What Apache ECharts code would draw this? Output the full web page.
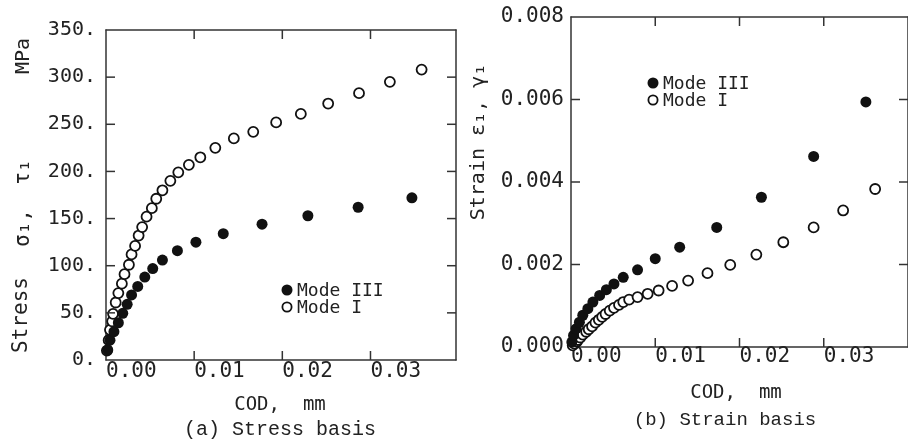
<!DOCTYPE html>
<html>
<head>
<meta charset="utf-8">
<script src="https://cdn.jsdelivr.net/npm/echarts@6/dist/echarts.min.js"></script>
<style>
  html, body { margin: 0; padding: 0; background: #fff; }
  #chart { width: 908px; height: 441px; }
</style>
</head>
<body>
<div id="chart"></div>
<script>
// (a) Stress basis: COD (mm) vs stress (MPa)
const codStressModeIII = [0.0002, 0.00045, 0.0009, 0.0014, 0.0019, 0.0024, 0.0029, 0.0036, 0.0044, 0.0053, 0.0064, 0.0081, 0.0102, 0.0133, 0.0177, 0.0229, 0.0286, 0.0347];
const stressModeIII = [10.6, 21, 30, 39.5, 49.5, 59, 69, 78, 88, 97, 106, 116, 125, 134, 144, 153, 162, 172];
const codStressModeI = [0.0001, 0.0003, 0.00045, 0.0007, 0.0008, 0.0011, 0.0014, 0.0018, 0.0021, 0.0026, 0.0029, 0.0033, 0.0037, 0.0041, 0.0046, 0.0052, 0.0057, 0.0064, 0.0073, 0.0082, 0.0094, 0.0107, 0.0124, 0.0145, 0.0167, 0.0193, 0.0221, 0.0252, 0.0287, 0.0322, 0.0358];
const stressModeI = [10, 21, 32, 41, 49, 61, 71, 81, 91, 101, 112, 121, 132, 141, 152, 161, 171, 180, 190, 199, 207, 215, 225, 235, 242, 252, 261, 272, 283, 295, 308];

// (b) Strain basis: COD (mm) vs strain
const codStrainModeIII = [0.0001, 0.0003, 0.0006, 0.0010, 0.0014, 0.0020, 0.0026, 0.0034, 0.0042, 0.0051, 0.0062, 0.0079, 0.0100, 0.0129, 0.0173, 0.0226, 0.0288, 0.0350];
const strainModeIII = [0.00012, 0.00028, 0.00044, 0.00060, 0.00077, 0.00093, 0.00109, 0.00125, 0.00139, 0.00153, 0.00169, 0.00187, 0.00214, 0.00242, 0.00290, 0.00363, 0.00462, 0.00594];
const codStrainModeI = [0.0002, 0.0004, 0.0007, 0.0008, 0.0011, 0.0014, 0.0018, 0.0021, 0.0025, 0.0029, 0.0033, 0.0037, 0.0041, 0.0046, 0.0051, 0.0057, 0.0062, 0.0069, 0.0079, 0.0091, 0.0104, 0.0120, 0.0139, 0.0162, 0.0189, 0.0220, 0.0252, 0.0288, 0.0323, 0.0361];
const strainModeI = [0.00004, 0.00008, 0.00013, 0.00017, 0.00023, 0.00030, 0.00037, 0.00043, 0.00050, 0.00059, 0.00066, 0.00073, 0.00080, 0.00088, 0.00095, 0.00102, 0.00109, 0.00115, 0.00121, 0.00129, 0.00137, 0.00148, 0.00161, 0.00179, 0.00199, 0.00224, 0.00254, 0.00290, 0.00331, 0.00383];

// inner tick marks drawn on all four sides of each frame
const codTicks = [0.01, 0.02, 0.03];
const stressTicks = [50, 100, 150, 200, 250, 300];
const strainTicks = [0.002, 0.004, 0.006];

const legendLabels = ['Mode III', 'Mode I'];

const INK = '#222';
const FRAME = '#333';
const MONO = 'DejaVu Sans Mono';
const TYPE = 'Liberation Mono';
const TICK_LEN = 9;

const pairs = (xs, ys) => xs.map((x, i) => [x, ys[i]]);

const axisLine = () => ({ show: true, onZero: false, lineStyle: { color: FRAME, width: 1.5 } });

function xAxes(gridIndex, max, margin) {
  return [
    {
      gridIndex, type: 'value', position: 'bottom', min: 0, max, interval: 0.01,
      splitLine: { show: false }, axisLine: axisLine(), axisTick: { show: false },
      axisLabel: {
        show: true, showMaxLabel: false, align: 'left', margin,
        fontFamily: MONO, fontSize: 21, color: INK,
        formatter: v => v.toFixed(2)
      }
    },
    {
      gridIndex, type: 'value', position: 'top', min: 0, max, interval: 0.01,
      splitLine: { show: false }, axisLine: axisLine(), axisTick: { show: false },
      axisLabel: { show: false }
    }
  ];
}

function yAxes(gridIndex, max, interval, fmt, fontSize, margin) {
  return [
    {
      gridIndex, type: 'value', position: 'left', min: 0, max, interval,
      splitLine: { show: false }, axisLine: axisLine(), axisTick: { show: false },
      axisLabel: { show: true, margin, fontFamily: MONO, fontSize, color: INK, formatter: fmt }
    },
    {
      gridIndex, type: 'value', position: 'right', min: 0, max, interval,
      splitLine: { show: false }, axisLine: axisLine(), axisTick: { show: false },
      axisLabel: { show: false }
    }
  ];
}

const filledStyle = () => ({ color: '#111', opacity: 1 });
const openStyle = () => ({ color: '#fff', borderColor: '#111', borderWidth: 1.8, opacity: 1 });

// Key: filled dot for Mode III, open ring for Mode I
function legendGraphic(x, y) {
  return [
    { type: 'circle', shape: { cx: x, cy: y, r: 5.5 }, style: { fill: '#111' } },
    { type: 'circle', shape: { cx: x, cy: y + 17, r: 4.6 }, style: { fill: '#fff', stroke: '#111', lineWidth: 1.8 } },
    { type: 'text', x: x + 10, y: y + 1, style: { text: legendLabels[0], fontFamily: MONO, fontSize: 18, fill: INK, align: 'left', verticalAlign: 'middle' } },
    { type: 'text', x: x + 10, y: y + 18, style: { text: legendLabels[1], fontFamily: MONO, fontSize: 18, fill: INK, align: 'left', verticalAlign: 'middle' } }
  ];
}

function vText(x, y, text, size) {
  return {
    type: 'text', x, y, rotation: Math.PI / 2,
    style: { text, fontFamily: MONO, fontSize: size, fill: INK, align: 'center', verticalAlign: 'middle' }
  };
}
function hText(x, y, text, font, size) {
  return {
    type: 'text', x, y,
    style: { text, fontFamily: font, fontSize: size, fill: INK, align: 'center', verticalAlign: 'middle' }
  };
}

const STRESS_X_MAX = 0.0397, STRESS_Y_MAX = 350;
const STRAIN_X_MAX = 0.04, STRAIN_Y_MAX = 0.008;

const option = {
  animation: false,
  backgroundColor: '#fff',
  grid: [
    { left: 106, top: 30, width: 350, height: 330 },
    { left: 571, top: 17, width: 340, height: 330 }
  ],
  xAxis: [
    ...xAxes(0, STRESS_X_MAX, 1),
    ...xAxes(1, STRAIN_X_MAX, -1)
  ],
  yAxis: [
    ...yAxes(0, STRESS_Y_MAX, 50, v => v + '.', 20, 10),
    ...yAxes(1, STRAIN_Y_MAX, 0.002, v => v.toFixed(3), 21, 7)
  ],
  series: [
    { name: 'Mode I', type: 'scatter', xAxisIndex: 0, yAxisIndex: 0, symbol: 'circle', symbolSize: 10,
      itemStyle: openStyle(), data: pairs(codStressModeI, stressModeI), z: 3 },
    { name: 'Mode III', type: 'scatter', xAxisIndex: 0, yAxisIndex: 0, symbol: 'circle', symbolSize: 11,
      itemStyle: filledStyle(), data: pairs(codStressModeIII, stressModeIII), z: 4 },
    { name: 'Mode I', type: 'scatter', xAxisIndex: 2, yAxisIndex: 2, symbol: 'circle', symbolSize: 10,
      itemStyle: openStyle(), data: pairs(codStrainModeI, strainModeI), z: 3 },
    { name: 'Mode III', type: 'scatter', xAxisIndex: 2, yAxisIndex: 2, symbol: 'circle', symbolSize: 11,
      itemStyle: filledStyle(), data: pairs(codStrainModeIII, strainModeIII), z: 4 }
  ]
};

const chart = echarts.init(document.getElementById('chart'), null, { renderer: 'canvas' });
chart.setOption(option);

// Inward tick marks, located through the axes' own pixel conversion
function frameTicks(axisIndex, xRange, yRange, xTicks, yTicks) {
  const finder = { xAxisIndex: axisIndex, yAxisIndex: axisIndex };
  const seg = (a, dx, dy) => ({
    type: 'line', z: 100, silent: true,
    shape: { x1: a[0], y1: a[1], x2: a[0] + dx, y2: a[1] + dy },
    style: { stroke: FRAME, lineWidth: 1.5 }
  });
  const out = [];
  xTicks.forEach(v => {
    out.push(seg(chart.convertToPixel(finder, [v, yRange[0]]), 0, -TICK_LEN));
    out.push(seg(chart.convertToPixel(finder, [v, yRange[1]]), 0, TICK_LEN));
  });
  yTicks.forEach(v => {
    out.push(seg(chart.convertToPixel(finder, [xRange[0], v]), TICK_LEN, 0));
    out.push(seg(chart.convertToPixel(finder, [xRange[1], v]), -TICK_LEN, 0));
  });
  return out;
}

chart.setOption({
  graphic: [
    ...frameTicks(0, [0, STRESS_X_MAX], [0, STRESS_Y_MAX], codTicks, stressTicks),
    ...frameTicks(2, [0, STRAIN_X_MAX], [0, STRAIN_Y_MAX], codTicks, strainTicks),
    ...legendGraphic(287, 290),
    ...legendGraphic(653, 83),
    vText(22, 315, 'Stress', 21),
    vText(24, 228, 'σ₁,', 21),
    vText(24, 172, 'τ₁', 21),
    vText(24, 56, 'MPa', 20),
    vText(479, 142, 'Strain ε₁, γ₁', 20),
    hText(280, 405, 'COD,  mm', MONO, 19),
    hText(280, 430, '(a) Stress basis', TYPE, 20),
    hText(736, 393, 'COD,  mm', MONO, 19),
    hText(725, 420, '(b) Strain basis', TYPE, 19)
  ]
});
</script>
</body>
</html>
